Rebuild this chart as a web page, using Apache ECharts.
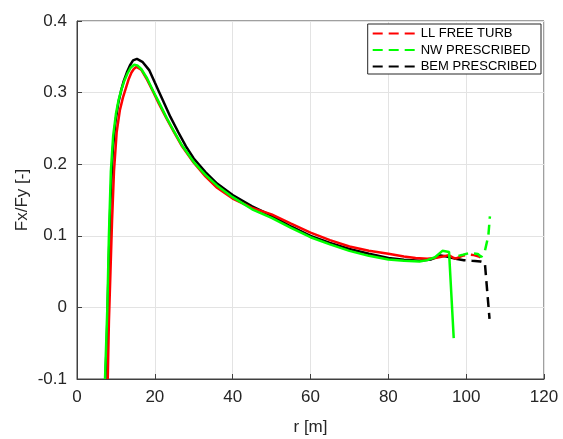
<!DOCTYPE html>
<html>
<head>
<meta charset="utf-8">
<script src="https://cdn.jsdelivr.net/npm/echarts@6/dist/echarts.min.js"></script>
<style>html,body{margin:0;padding:0;background:#fff;}#c{width:563px;height:439px;}</style>
</head>
<body>
<div id="c"></div>
<script>
// ---- data ----
const xTicks = [0, 20, 40, 60, 80, 100, 120];
const yTicks = [-0.1, 0, 0.1, 0.2, 0.3, 0.4];
const seriesNames = ['LL FREE TURB', 'NW PRESCRIBED', 'BEM PRESCRIBED'];

// LL FREE TURB (red)
const rRed = [7.9, 8.2, 8.6, 9.0, 9.5, 10.2, 11.0, 11.8, 12.6, 13.3, 14.0, 14.6, 15.3, 16.5, 18.0, 19.5, 21, 23, 25, 27, 30, 33, 36, 40, 45, 50, 55, 60, 65, 70, 75, 80, 84, 87, 90, 92, 94, 95.5, 96.5, 97.3];
const vRed = [-0.1, -0.02, 0.05, 0.12, 0.19, 0.245, 0.275, 0.293, 0.307, 0.319, 0.328, 0.333, 0.336, 0.332, 0.318, 0.302, 0.285, 0.264, 0.244, 0.225, 0.202, 0.183, 0.167, 0.152, 0.139, 0.13, 0.117, 0.1045, 0.094, 0.085, 0.079, 0.075, 0.071, 0.069, 0.068, 0.069, 0.071, 0.073, 0.07, 0.068];
const rRedTail = [97.3, 99, 100.5, 102, 103.5, 104];
const vRedTail = [0.068, 0.072, 0.074, 0.073, 0.0705, 0.069];

// NW PRESCRIBED (green)
const rGreen = [7.2, 7.5, 7.8, 8.2, 8.7, 9.3, 10.0, 10.7, 11.4, 12.2, 13.0, 13.8, 14.7, 15.5, 16.5, 18, 19.5, 21, 23, 25, 27, 30, 33, 36, 40, 45, 50, 55, 60, 65, 70, 75, 80, 84, 88, 90, 92, 93.9, 95.6, 96, 96.8];
const vGreen = [-0.1, -0.05, 0, 0.1, 0.19, 0.24, 0.27, 0.29, 0.304, 0.317, 0.327, 0.335, 0.339, 0.338, 0.333, 0.32, 0.303, 0.287, 0.265, 0.245, 0.226, 0.203, 0.185, 0.17, 0.154, 0.137, 0.125, 0.111, 0.098, 0.088, 0.079, 0.072, 0.067, 0.065, 0.064, 0.066, 0.07, 0.079, 0.0775, 0.076, -0.043];
const rGreenTail = [98, 99.2, 100.9, 103, 103.9, 104.8, 105.7, 106.1];
const vGreenTail = [0.072, 0.0735, 0.076, 0.0745, 0.0705, 0.0785, 0.1, 0.127];

// BEM PRESCRIBED (black)
const rBlack = [7.3, 7.7, 8.1, 8.6, 9.2, 9.9, 10.6, 11.3, 12.0, 12.8, 13.6, 14.4, 15.4, 16.8, 18.6, 20, 21, 22, 24, 26, 28, 30, 33, 36, 40, 45, 50, 55, 60, 65, 70, 75, 80, 84, 88, 91, 93.4, 95, 97.3];
const vBlack = [-0.1, -0.04, 0.05, 0.15, 0.22, 0.26, 0.285, 0.302, 0.316, 0.328, 0.338, 0.345, 0.347, 0.343, 0.331, 0.314, 0.302, 0.29, 0.266, 0.245, 0.225, 0.208, 0.189, 0.173, 0.157, 0.141, 0.128, 0.113, 0.1, 0.09, 0.0815, 0.075, 0.069, 0.0665, 0.065, 0.067, 0.0725, 0.071, 0.068];
const rBlackTail = [97.3, 99.4, 101.5, 103.7, 104.8, 106];
const vBlackTail = [0.068, 0.066, 0.065, 0.064, 0.0625, -0.016];

// ---- chart ----
const zip = (a, b) => a.map((x, i) => [x, b[i]]);
const FONT = '"Liberation Sans", Arial, Helvetica, sans-serif';
const AX = '#262626';
const DASH = [10, 6];

function solid(name, r, v, color) {
  return { name: name, type: 'line', data: zip(r, v), symbol: 'none', smooth: false,
           lineStyle: { color: color, width: 2.5 }, itemStyle: { color: color } };
}
function dashed(name, r, v, color) {
  return { name: name, type: 'line', data: zip(r, v), symbol: 'none',
           lineStyle: { color: color, width: 2.5, type: DASH }, itemStyle: { color: color } };
}

const chart = echarts.init(document.getElementById('c'), null, { renderer: 'canvas' });
chart.setOption({
  animation: false,
  backgroundColor: '#ffffff',
  textStyle: { fontFamily: FONT },
  grid: { left: 77, top: 21, right: 19, bottom: 60, show: true, borderColor: '#404040', borderWidth: 1,
          backgroundColor: 'transparent', outerBoundsMode: 'none', containLabel: false },
  legend: {
    data: seriesNames,
    orient: 'vertical',
    right: 22, top: 24,
    padding: [3, 4, 1, 4],
    itemWidth: 43, itemHeight: 14, itemGap: 3.5,
    backgroundColor: '#ffffff',
    borderColor: AX, borderWidth: 1, borderRadius: 0,
    itemStyle: { opacity: 0 },
    textStyle: { fontFamily: FONT, fontSize: 13, color: '#000' }
  },
  xAxis: {
    type: 'value', min: xTicks[0], max: xTicks[xTicks.length - 1], interval: 20,
    name: 'r [m]', nameLocation: 'middle', nameGap: 40, nameMoveOverlap: false,
    nameTextStyle: { fontFamily: FONT, fontSize: 17, color: AX },
    axisLine: { show: true, onZero: false, lineStyle: { color: '#404040', width: 1 } },
    axisTick: { show: true, inside: true, length: 5, lineStyle: { color: '#404040' } },
    axisLabel: { fontFamily: FONT, fontSize: 17, color: AX, margin: 10 },
    splitLine: { show: true, lineStyle: { color: '#e3e3e3', width: 1 } }
  },
  yAxis: {
    type: 'value', min: yTicks[0], max: yTicks[yTicks.length - 1], interval: 0.1,
    name: 'Fx/Fy [-]', nameLocation: 'middle', nameGap: 46, nameMoveOverlap: false,
    nameTextStyle: { fontFamily: FONT, fontSize: 17, color: AX },
    axisLine: { show: true, onZero: false, lineStyle: { color: '#404040', width: 1 } },
    axisTick: { show: true, inside: true, length: 5, lineStyle: { color: '#404040' } },
    axisLabel: { fontFamily: FONT, fontSize: 17, color: AX, margin: 10,
                 formatter: v => String(Math.round(v * 10) / 10) },
    splitLine: { show: true, lineStyle: { color: '#e3e3e3', width: 1 } }
  },
  series: [
    solid('BEM main', rBlack, vBlack, '#000000'),
    dashed(seriesNames[2], rBlackTail, vBlackTail, '#000000'),
    solid('LL main', rRed, vRed, '#ff0000'),
    dashed(seriesNames[0], rRedTail, vRedTail, '#ff0000'),
    solid('NW main', rGreen, vGreen, '#00ff00'),
    dashed(seriesNames[1], rGreenTail, vGreenTail, '#00ff00')
  ]
});
</script>
</body>
</html>
